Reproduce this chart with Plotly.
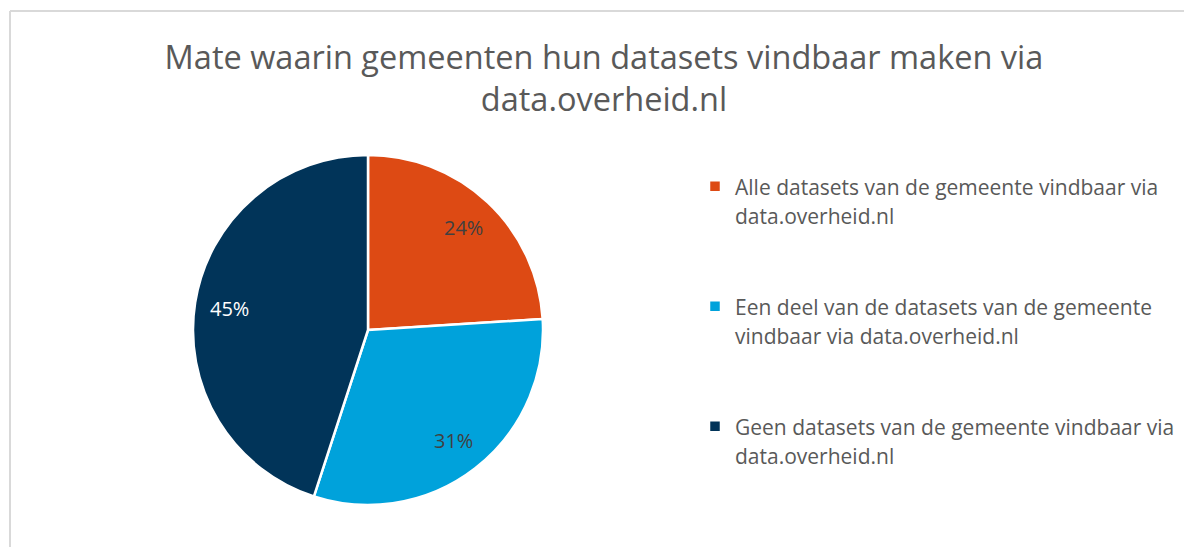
import math
import plotly.graph_objects as go

# page has an 8px body margin, so the figure is drawn 8px in and down
OFF = 8
W, H = 1192 - OFF, 547 - OFF

title_lines = ["Mate waarin gemeenten hun datasets vindbaar maken via", "data.overheid.nl"]
categories = [
    "Alle datasets van de gemeente vindbaar via data.overheid.nl",
    "Een deel van de datasets van de gemeente vindbaar via data.overheid.nl",
    "Geen datasets van de gemeente vindbaar via data.overheid.nl",
]
legend_lines = [
    ["Alle datasets van de gemeente vindbaar via", "data.overheid.nl"],
    ["Een deel van de datasets van de gemeente", "vindbaar via data.overheid.nl"],
    ["Geen datasets van de gemeente vindbaar via", "data.overheid.nl"],
]
values = [24, 31, 45]
colors = ["#DD4A14", "#00A2DB", "#013459"]
label_colors = ["#404040", "#404040", "#FFFFFF"]

FONT = "Open Sans"
PAD = "\u00a0"


def px_x(x):
    return (x - OFF) / W


def px_y(y):
    return 1 - (y - OFF) / H


legend_labels = [
    "<br>".join([f"<span style='font-size:21px'>{t}</span>" for t in lines] + [PAD, PAD])
    for lines in legend_lines
]

# pie geometry (screen pixels)
PX0, PX1, PY0, PY1 = 193, 543, 155, 505
dom_x = [px_x(PX0), px_x(PX1)]
dom_y = [px_y(PY1), px_y(PY0)]

fig = go.Figure()
fig.add_trace(go.Pie(
    labels=legend_labels,
    values=values,
    customdata=categories,
    sort=False,
    direction="clockwise",
    rotation=0,
    marker=dict(colors=colors, line=dict(color="#FFFFFF", width=2.5)),
    textinfo="none",
    hovertemplate="%{customdata}: %{percent:.0%}<extra></extra>",
    domain=dict(x=dom_x, y=dom_y),
))

# percentage labels, placed at ~80% of the radius at each slice's mid-angle
total = sum(values)
cx = (dom_x[0] + dom_x[1]) / 2
cy = (dom_y[0] + dom_y[1]) / 2
R = (PX1 - PX0) / 2
annotations = []
cum = 0
for v, c in zip(values, label_colors):
    mid = (cum + v / 2) / total * 2 * math.pi
    cum += v
    r = 0.8 * R
    annotations.append(dict(
        x=cx + r * math.sin(mid) / W,
        y=cy + r * math.cos(mid) / H,
        xref="paper", yref="paper",
        text=f"{round(100 * v / total)}%",
        showarrow=False,
        xanchor="center", yanchor="middle",
        font=dict(family=FONT, size=20, color=c),
    ))

fig.update_layout(
    width=W, height=H,
    margin=dict(l=0, r=0, t=0, b=0),
    paper_bgcolor="#FFFFFF",
    plot_bgcolor="#FFFFFF",
    font=dict(family=FONT, color="#595959"),
    title=dict(
        text="<br>".join(title_lines),
        x=px_x(604), xanchor="center",
        y=px_y(69), yanchor="middle", yref="container",
        font=dict(family=FONT, size=32.5, color="#595959"),
    ),
    legend=dict(
        x=px_x(695), xanchor="left",
        y=px_y(165), yanchor="top",
        valign="top",
        font=dict(family=FONT, size=22.5, color="#595959"),
        bgcolor="rgba(0,0,0,0)",
        traceorder="normal",
    ),
    annotations=annotations,
    shapes=[
        dict(type="line", xref="paper", yref="paper",
             x0=px_x(10), x1=px_x(10), y0=px_y(11), y1=0,
             line=dict(color="#D9D9D9", width=2)),
        dict(type="line", xref="paper", yref="paper",
             x0=px_x(10), x1=1, y0=px_y(11), y1=px_y(11),
             line=dict(color="#D9D9D9", width=2)),
    ],
)

fig.write_html("out.html")
